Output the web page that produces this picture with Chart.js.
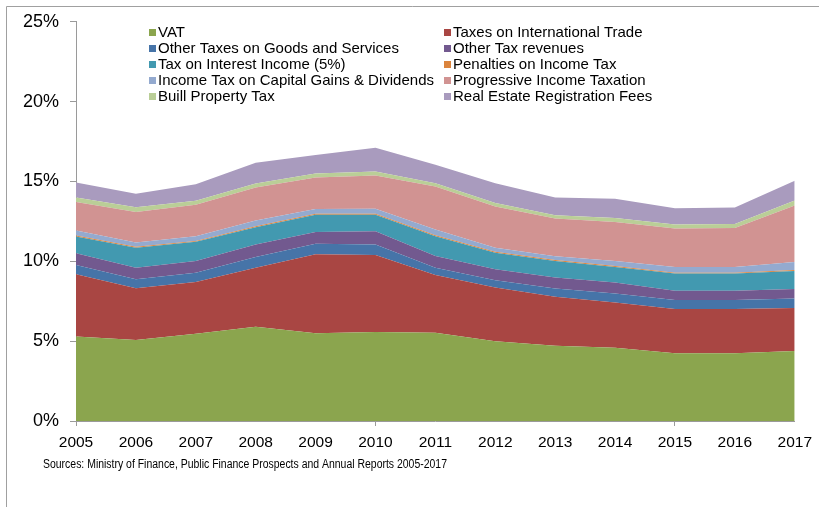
<!DOCTYPE html>
<html>
<head>
<meta charset="utf-8">
<title>Tax revenues as share of GDP</title>
<script src="https://cdn.jsdelivr.net/npm/chart.js@4.4.0/dist/chart.umd.min.js"></script>
<style>
    html, body { margin: 0; padding: 0; background: #fff; }
    #chart-wrap { width: 819px; height: 507px; position: relative; }
</style>
</head>
<body>
<div id="chart-wrap"><canvas id="tax-chart"></canvas></div>
<script>
// Categories (years) and the stacked series, in % of GDP
const years = ['2005', '2006', '2007', '2008', '2009', '2010', '2011', '2012', '2013', '2014', '2015', '2016', '2017'];

const vat          = [5.29, 5.08, 5.46, 5.91, 5.50, 5.58, 5.52, 5.00, 4.71, 4.59, 4.25, 4.25, 4.38];
const trade        = [3.90, 3.24, 3.25, 3.69, 4.94, 4.81, 3.63, 3.36, 3.07, 2.83, 2.76, 2.76, 2.70];
const otherGoods   = [0.58, 0.56, 0.58, 0.67, 0.66, 0.67, 0.45, 0.46, 0.52, 0.56, 0.56, 0.56, 0.59];
const otherRevenue = [0.73, 0.72, 0.73, 0.79, 0.74, 0.83, 0.73, 0.68, 0.68, 0.69, 0.58, 0.58, 0.59];
const interestTax  = [1.05, 1.25, 1.20, 1.07, 1.08, 1.03, 1.24, 1.04, 1.04, 0.98, 1.08, 1.08, 1.14];
const penalties    = [0.06, 0.06, 0.06, 0.06, 0.06, 0.06, 0.06, 0.06, 0.06, 0.06, 0.06, 0.06, 0.06];
const capitalGains = [0.32, 0.27, 0.29, 0.36, 0.29, 0.32, 0.36, 0.25, 0.23, 0.31, 0.36, 0.36, 0.50];
const progressive  = [1.78, 1.91, 1.98, 2.07, 1.98, 2.07, 2.70, 2.59, 2.37, 2.44, 2.40, 2.44, 3.54];
const buill        = [0.29, 0.29, 0.25, 0.25, 0.25, 0.25, 0.20, 0.21, 0.20, 0.25, 0.25, 0.25, 0.31];
const realEstate   = [0.93, 0.85, 1.03, 1.31, 1.16, 1.49, 1.15, 1.24, 1.12, 1.21, 1.03, 1.03, 1.23];

const seriesNames = [
    'VAT', 'Taxes on International Trade',
    'Other Taxes on Goods and Services', 'Other Tax revenues',
    'Tax on Interest Income (5%)', 'Penalties on Income Tax',
    'Income Tax on Capital Gains & Dividends', 'Progressive Income Taxation',
    'Buill Property Tax', 'Real Estate Registration Fees'
];
const seriesValues = [vat, trade, otherGoods, otherRevenue, interestTax, penalties, capitalGains, progressive, buill, realEstate];
const seriesColors = ['#8BA54E', '#A94643', '#4674A8', '#72598F', '#4299B0', '#DB843D', '#94AACF', '#D19392', '#BACE97', '#A99BBE'];

const yTicks = [0, 5, 10, 15, 20, 25];
const sourceNote = 'Sources: Ministry of Finance, Public Finance Prospects and Annual Reports 2005-2017';

const FONT = "'Liberation Sans', Arial, sans-serif";
const AXIS_GREY = '#9a9a9a';

// Legend drawn inside the plot, two columns like the original
const legendInPlot = {
    id: 'legendInPlot',
    afterDraw(chart) {
        const ctx = chart.ctx;
        ctx.save();
        ctx.font = '15px ' + FONT;
        ctx.textBaseline = 'middle';
        chart.data.datasets.forEach((ds, i) => {
            const col = i % 2;
            const row = Math.floor(i / 2);
            const bx = col === 0 ? 149 : 444;
            const y = 32.5 + row * 16;
            ctx.fillStyle = ds.backgroundColor;
            ctx.fillRect(bx, y - 3.5, 7, 7);
            ctx.fillStyle = '#000';
            ctx.fillText(ds.label, bx + 9, y + 0.5);
        });
        ctx.restore();
    }
};

// Source line and the outer frame
const notesAndFrame = {
    id: 'notesAndFrame',
    afterDraw(chart) {
        const ctx = chart.ctx;
        ctx.save();
        ctx.font = '12px ' + FONT;
        ctx.fillStyle = '#000';
        ctx.textBaseline = 'middle';
        ctx.fillText(sourceNote, 43, 465, 404);

        ctx.strokeStyle = '#a0a0a0';
        ctx.lineWidth = 1;
        ctx.beginPath();
        ctx.moveTo(6.5, 507);
        ctx.lineTo(6.5, 6.5);
        ctx.lineTo(819, 6.5);
        ctx.stroke();
        ctx.restore();
    }
};

const datasets = seriesNames.map((name, i) => ({
    label: name,
    data: seriesValues[i],
    backgroundColor: seriesColors[i],
    borderColor: seriesColors[i],
    borderWidth: 0,
    pointRadius: 0,
    tension: 0,
    fill: i === 0 ? 'origin' : '-1'
}));

new Chart(document.getElementById('tax-chart'), {
    type: 'line',
    data: { labels: years, datasets },
    options: {
        responsive: true,
        maintainAspectRatio: false,
        animation: false,
        layout: { padding: { left: 0, top: 19, right: 22, bottom: 0 } },
        plugins: {
            legend: { display: false },
            tooltip: { enabled: false }
        },
        scales: {
            x: {
                grid: {
                    drawOnChartArea: false,
                    tickLength: 5,
                    color: ctx => (ctx.index % 5 === 0 ? AXIS_GREY : 'rgba(0,0,0,0)')
                },
                border: { color: AXIS_GREY },
                ticks: {
                    color: '#000',
                    font: { family: FONT, size: 15.5 },
                    padding: 7,
                    autoSkip: false,
                    maxRotation: 0
                },
                afterFit(scale) { scale.height = 86; }
            },
            y: {
                stacked: true,
                min: 0,
                max: 25,
                grid: { drawOnChartArea: false, tickLength: 6, color: AXIS_GREY },
                border: { color: AXIS_GREY },
                afterBuildTicks(scale) { scale.ticks = yTicks.map(v => ({ value: v })); },
                ticks: {
                    color: '#000',
                    font: { family: FONT, size: 18 },
                    padding: 11,
                    callback: v => v + '%'
                },
                afterFit(scale) { scale.width = 76; }
            }
        }
    },
    plugins: [legendInPlot, notesAndFrame]
});
</script>
</body>
</html>
